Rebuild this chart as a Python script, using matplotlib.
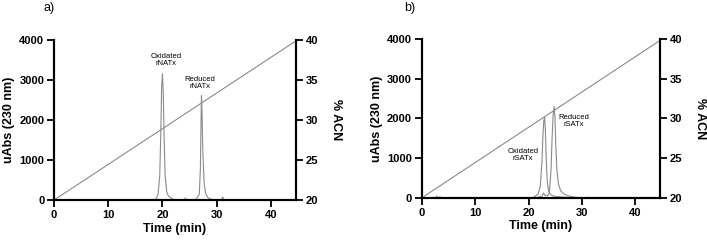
import matplotlib.pyplot as plt

plt.rcParams['font.family'] = ['Liberation Sans', 'DejaVu Sans']

# gradient (%ACN vs time)
grad_t = [0, 45]
grad_acn = [20, 40]

# panel a: rNATx chromatogram
a_t = [0, 3, 8, 15, 18.0, 18.8, 19.2, 19.5, 19.7, 19.85, 20.0, 20.15, 20.3, 20.5, 20.8, 21.1, 21.5,
       22.0, 23.0, 24.0, 24.2, 24.4, 25.5, 26.2, 26.5, 26.8, 27.0, 27.1, 27.2, 27.3, 27.45, 27.7,
       28.0, 28.4, 29.0, 30.0, 30.9, 31.1, 31.3, 33, 45]
a_abs = [0, 5, 0, 0, 0, 20, 150, 600, 1700, 2800, 3150, 2700, 1600, 600, 200, 100, 60,
         20, 0, 0, 50, 0, 0, 20, 80, 150, 800, 1800, 2600, 2200, 1200, 400,
         150, 60, 20, 0, 0, 80, 0, 0, 0]

# panel b: oxidated rSATx
bo_t = [0, 2.5, 2.8, 3.1, 3.4, 3.7, 4.0, 10, 20, 21.0, 21.8, 22.2, 22.5, 22.7, 22.85, 23.0, 23.15,
        23.3, 23.5, 23.8, 24.0, 24.2, 24.6, 25.5, 27.0, 29.0, 45]
bo_abs = [0, 0, 40, 0, 30, 0, 0, 0, 0, 20, 100, 300, 900, 1600, 1950, 2030, 1700,
          1000, 400, 150, 100, 80, 50, 30, 15, 0, 0]

# panel b: reduced rSATx
br_t = [0, 20, 21.5, 22.5, 22.8, 23.1, 23.5, 23.9, 24.2, 24.4, 24.6, 24.8, 24.95, 25.1, 25.3,
        25.6, 26.0, 26.6, 27.5, 28.5, 30.0, 31.0, 31.2, 31.4, 45]
br_abs = [0, 0, 10, 40, 120, 60, 50, 120, 700, 1500, 2100, 2300, 2000, 1300, 700,
          350, 180, 100, 50, 20, 0, 0, 20, 0, 0]

gray = '#8a8a8a'


def setup(ax):
    ax2 = ax.twinx()
    ax2.plot(grad_t, grad_acn, color=gray, lw=0.8)
    ax.set_xlim(0, 44.6)
    ax.set_ylim(0, 4000)
    ax2.set_ylim(20, 40)
    ax.set_xticks([0, 10, 20, 30, 40])
    ax.set_yticks([0, 1000, 2000, 3000, 4000])
    ax2.set_yticks([20, 25, 30, 35, 40])
    for a in (ax, ax2):
        a.spines['top'].set_visible(False)
        for s in ('left', 'right', 'bottom'):
            a.spines[s].set_linewidth(1.5)
        a.tick_params(width=1.3, length=5, labelsize=8, pad=2)
        for t in a.get_xticklabels() + a.get_yticklabels():
            t.set_fontweight('bold')
    ax.set_xlabel('Time (min)', fontsize=9, fontweight='bold', labelpad=2)
    ax.set_ylabel('uAbs (230 nm)', fontsize=9, fontweight='bold', labelpad=3)
    ax2.set_ylabel('% ACN', fontsize=9, fontweight='bold', rotation=270, labelpad=17)
    ax.set_zorder(ax2.get_zorder() + 1)
    ax.patch.set_visible(False)
    return ax2


fig = plt.figure(figsize=(7.07, 2.44), dpi=100)
axa = fig.add_axes([0.0764, 0.180, 0.342, 0.658])
axb = fig.add_axes([0.5965, 0.189, 0.337, 0.651])

setup(axa)
axa.plot(a_t, a_abs, color=gray, lw=0.8)
axa.text(20.6, 3490, 'Oxidated\nrNATx', ha='center', va='center', fontsize=5.5, linespacing=1.1)
axa.text(26.9, 2915, 'Reduced\nrNATx', ha='center', va='center', fontsize=5.5, linespacing=1.1)

setup(axb)
axb.plot(bo_t, bo_abs, color=gray, lw=0.8)
axb.plot(br_t, br_abs, color=gray, lw=0.8)
axb.text(28.4, 1940, 'Reduced\nrSATx', ha='center', va='center', fontsize=5.5, linespacing=1.1)
axb.text(18.9, 1080, 'Oxidated\nrSATx', ha='center', va='center', fontsize=5.5, linespacing=1.1)

fig.text(43 / 707, 1 - 8 / 244, 'a)', fontsize=9, va='center')
fig.text(404 / 707, 1 - 8 / 244, 'b)', fontsize=9, va='center')

fig.savefig('out.png', dpi=100)
